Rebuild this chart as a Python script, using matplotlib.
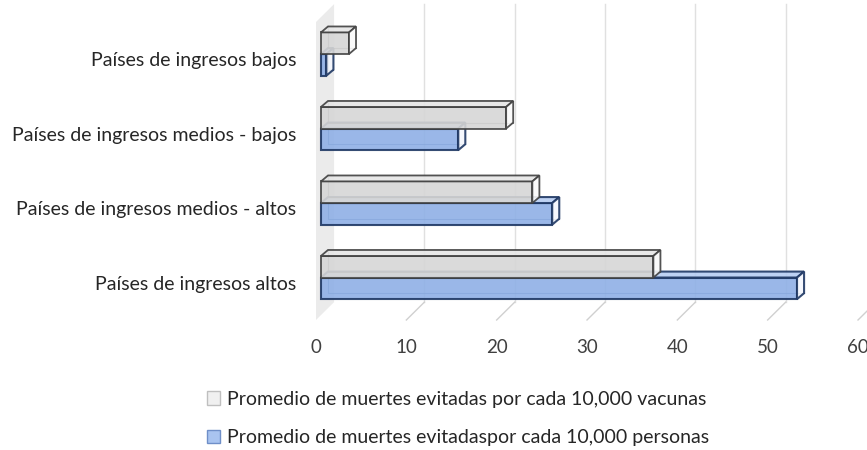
import matplotlib.pyplot as plt
from matplotlib.patches import Polygon, Patch

plt.rcParams['font.family'] = ['Lato', 'DejaVu Sans']

categorias = ["Países de ingresos bajos",
              "Países de ingresos medios - bajos",
              "Países de ingresos medios - altos",
              "Países de ingresos altos"]
por_vacunas = [3.1, 20.5, 23.4, 36.8]
por_personas = [0.6, 15.2, 25.6, 52.7]
ticks = [0, 10, 20, 30, 40, 50, 60]
etiquetas = ["Promedio de muertes evitadas por cada 10,000 vacunas",
             "Promedio de muertes evitadaspor cada 10,000 personas"]

W, H = 867, 450
fig = plt.figure(figsize=(W / 100, H / 100), dpi=100)
ax = fig.add_axes([316 / W, 1 - 320 / H, 542 / W, 298 / H])
ax.set_xlim(0, 60)
ax.set_ylim(-0.5, 3.5)
for s in ax.spines.values():
    s.set_visible(False)

# depth of the 3d box (back wall) and of each bar, in data units
wx, wy = 2.0, 0.24
bx, by = 0.55, 0.07
dx, dy = 0.78, 0.08
h = 0.29

# side wall and back wall grid
ax.add_patch(Polygon([(0, -0.5), (wx, -0.5 + wy), (wx, 3.5 + wy), (0, 3.5)],
                     closed=True, facecolor='#ebebeb', edgecolor='none',
                     clip_on=False, zorder=0))
for t in ticks[1:]:
    ax.plot([t + wx, t + wx], [-0.5 + wy, 3.5 + wy], color='#e0e0e0', lw=1,
            clip_on=False, zorder=0)
    ax.plot([t, t + wx], [-0.5, -0.5 + wy], color='#d0d0d0', lw=1,
            clip_on=False, zorder=0)


def caja(x0, y0, v, front, top, side, edge, lw, z):
    x1, y1 = x0 + v, y0 + h
    # hidden back edges seen through the faces
    ax.plot([x0 + dx, x0 + dx, x1 + dx], [y1 + dy, y0 + dy, y0 + dy],
            color=edge, lw=0.8, alpha=0.6, clip_on=False, zorder=z)
    ax.add_patch(Polygon([(x0, y0), (x1, y0), (x1, y1), (x0, y1)], closed=True,
                         facecolor=front, edgecolor=edge, lw=lw, alpha=0.9,
                         clip_on=False, zorder=z))
    ax.add_patch(Polygon([(x0, y1), (x1, y1), (x1 + dx, y1 + dy), (x0 + dx, y1 + dy)],
                         closed=True, facecolor=top, edgecolor=edge, lw=lw,
                         alpha=0.9, clip_on=False, zorder=z))
    ax.add_patch(Polygon([(x1, y0), (x1 + dx, y0 + dy), (x1 + dx, y1 + dy), (x1, y1)],
                         closed=True, facecolor=side, edgecolor=edge, lw=lw,
                         alpha=0.9, clip_on=False, zorder=z))


for i in range(len(categorias)):
    yc = 3 - i + by
    caja(bx, yc - h, por_personas[i], '#8fb0e6', '#b7cdf2', '#f4f7fd',
         '#1f3864', 1.5, 2 + i * 0.1)
    caja(bx, yc, por_vacunas[i], '#d6d6d6', '#e6e6e6', '#fafafa',
         '#404040', 1.3, 3 + i * 0.1)

ax.set_xticks(ticks)
ax.set_xticklabels([str(t) for t in ticks])
ax.set_yticks([3 - i for i in range(len(categorias))])
ax.set_yticklabels(categorias)
ax.tick_params(axis='x', length=0, pad=14, labelsize=13.5, labelcolor='#404040')
ax.tick_params(axis='y', length=0, pad=14, labelsize=14, labelcolor='#262626')

handles = [Patch(facecolor='#f0f0f0', edgecolor='#bfbfbf'),
           Patch(facecolor='#a9c4f0', edgecolor='#6f8fc8')]
fig.legend(handles, etiquetas, loc='upper left', bbox_to_anchor=(197 / W, 1 - 381 / H),
           frameon=False, fontsize=14, labelcolor='#262626', handlelength=0.7,
           handleheight=0.7, handletextpad=0.35, labelspacing=1.1, borderpad=0)

fig.savefig('out.png', dpi=100)
